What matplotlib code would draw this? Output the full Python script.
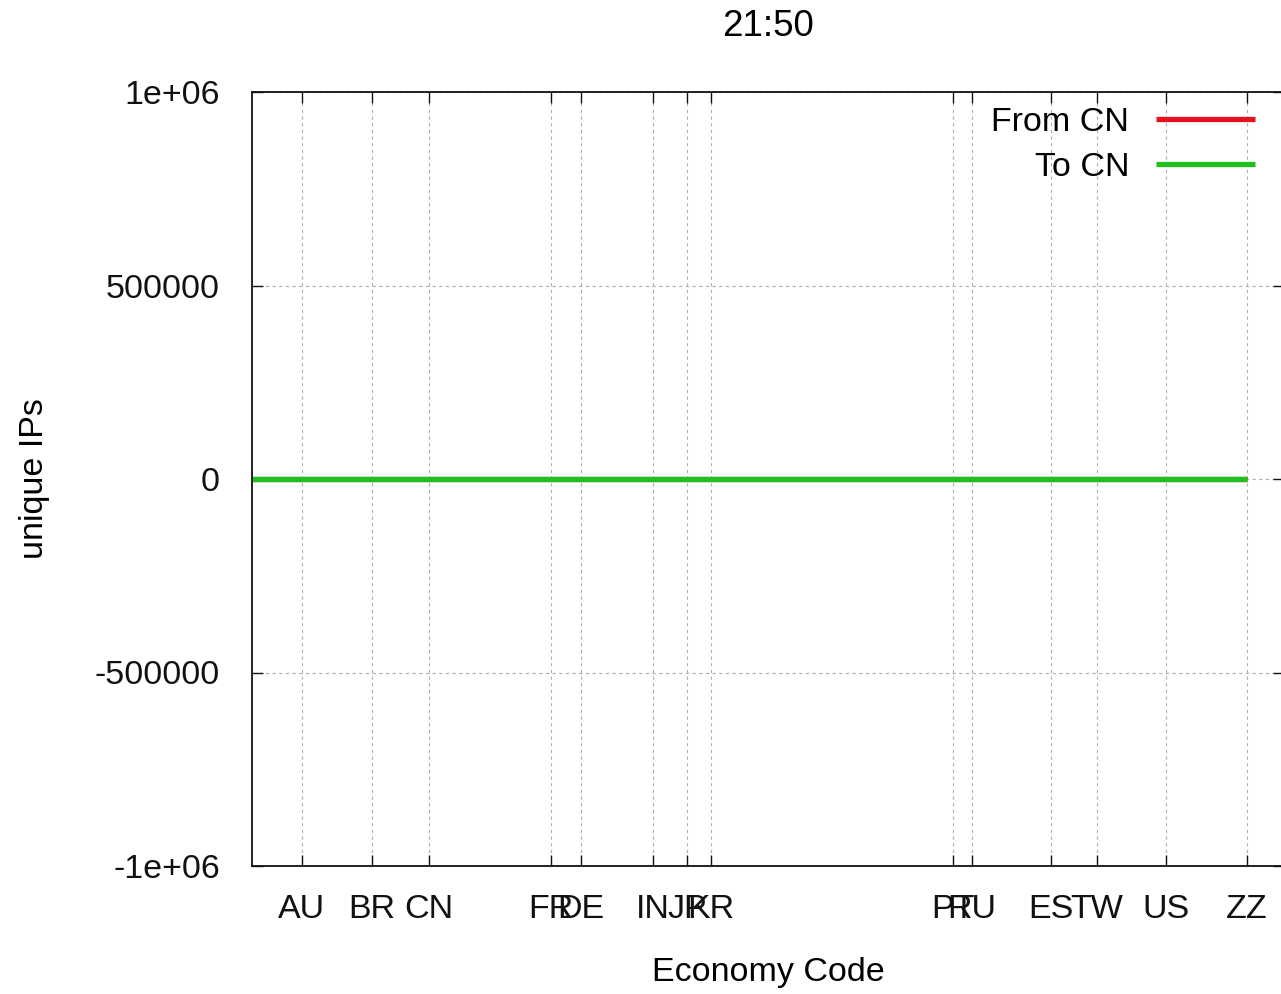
import matplotlib
matplotlib.use('Agg')
import matplotlib.pyplot as plt

# Economy codes and their positions on the x axis
codes = ['AU', 'BR', 'CN', 'FR', 'DE', 'IN', 'JP', 'KR', 'PT', 'RU', 'ES', 'TW', 'US', 'ZZ']
code_pos = [50, 120, 177, 299, 329, 401, 435, 459, 701, 720, 799, 845, 914, 995]

# series points (first point sits at the start of the range)
x_points = [0] + code_pos
from_cn = [0, 0, 0, 0, 0, 0, 0, 0, 0, 0, 0, 0, 0, 0, 0]
to_cn = [0, 0, 0, 0, 0, 0, 0, 0, 0, 0, 0, 0, 0, 0, 0]

y_ticks = [-1000000, -500000, 0, 500000, 1000000]
y_labels = ['-1e+06', '-500000', '0', '500000', '1e+06']

plt.rcParams['font.family'] = ['Liberation Sans', 'DejaVu Sans']
fs = 24.5

fig = plt.figure(figsize=(12.81, 9.94), dpi=100)
W, H = 1281, 994
ax = fig.add_axes([252 / W, 1 - 866 / H, (1284 - 252) / W, (866 - 92) / H])

ax.plot(x_points, from_cn, color='#e8101e', lw=3.8, label='From CN', solid_capstyle='butt')
ax.plot(x_points, to_cn, color='#1ec01e', lw=3.8, label='To CN', solid_capstyle='butt')

ax.set_xlim(0, 1032)
ax.set_ylim(-1000000, 1000000)
ax.set_xticks(code_pos)
ax.set_xticklabels(codes)
ax.set_yticks(y_ticks)
ax.set_yticklabels(y_labels)

ax.tick_params(direction='in', length=8, width=1, labelsize=fs, pad=20,
               top=True, right=True, colors='#111111')
ax.tick_params(axis='y', pad=23)
ax.grid(True, color='#b0b0b0', linestyle=(0, (3, 3)), linewidth=0.8)
for sp in ax.spines.values():
    sp.set_linewidth(1.3)
    sp.set_color('#111111')

ax.set_xlabel('Economy Code', fontsize=fs, va='center')
ax.xaxis.set_label_coords(0.5, (866 - 972) / 774)
ax.set_ylabel('unique IPs', fontsize=fs, va='center')
ax.yaxis.set_label_coords((35 - 252) / 1032, 0.5)

fig.text(768 / W, 1 - 27 / H, '21:50', fontsize=fs + 2, ha='center', va='center')

# markerfirst=False puts the sample line after the text, rows right aligned
ax.legend(loc='upper right', bbox_to_anchor=((1255 - 252) / 1032, (866 - 107) / 774),
          frameon=False, fontsize=fs, markerfirst=False, handlelength=2.9,
          handletextpad=0.8, labelspacing=0.42, borderaxespad=0, borderpad=0)

fig.savefig('out.png', dpi=100)
